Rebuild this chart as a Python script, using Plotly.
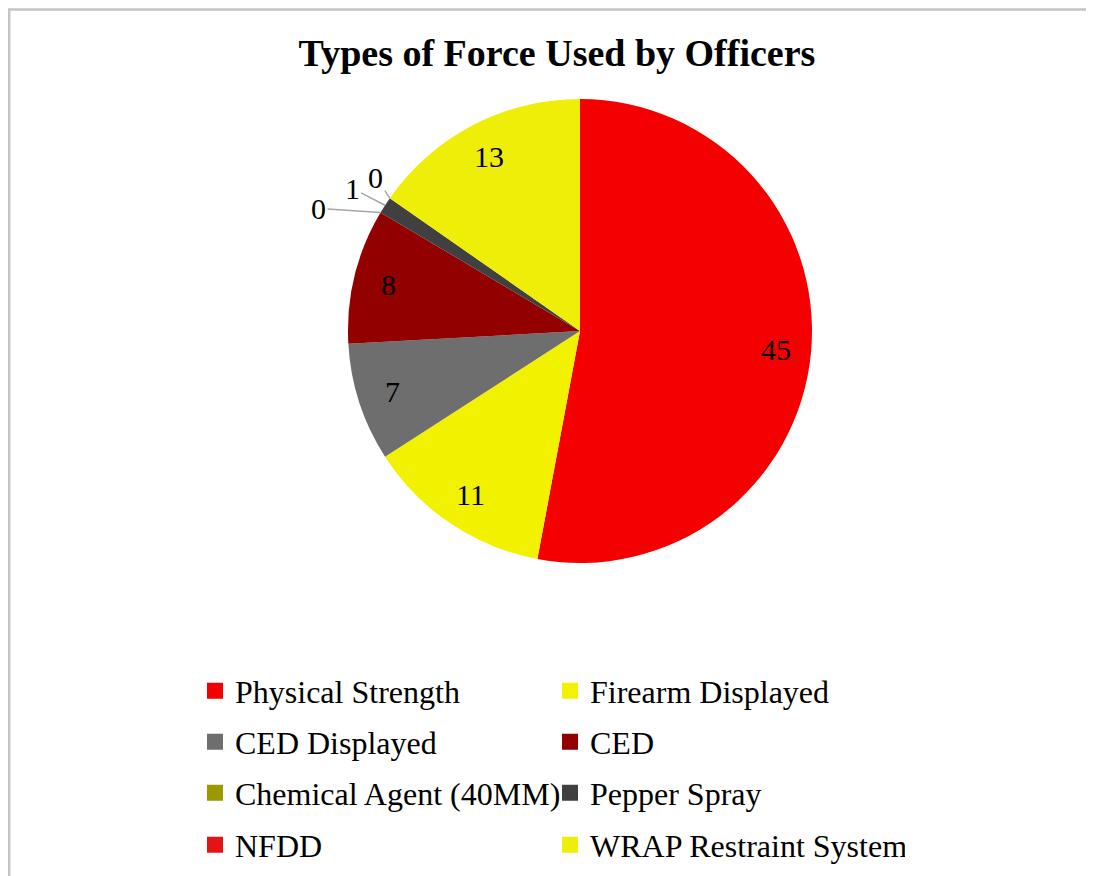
import math
import plotly.graph_objects as go

labels = ['Physical Strength', 'Firearm Displayed', 'CED Displayed', 'CED',
          'Chemical Agent (40MM)', 'Pepper Spray', 'NFDD', 'WRAP Restraint System']
values = [45, 11, 7, 8, 0, 1, 0, 13]
colors = ['#F40000', '#F2F200', '#6E6E6E', '#920000',
          '#9A9A00', '#404040', '#E41414', '#EEEE08']

# page has an 8px body margin, so the figure is 16px smaller than the window
W, H = 1086, 868
cx, cy, R = 572, 323, 232
serif = 'Liberation Serif, Times New Roman, serif'

fig = go.Figure()
fig.add_trace(go.Pie(labels=labels, values=values, sort=False, direction='clockwise',
                     rotation=0, marker=dict(colors=colors, line=dict(width=0)),
                     textinfo='none', hoverinfo='label+value', showlegend=False,
                     domain=dict(x=[(cx - R) / W, (cx + R) / W],
                                 y=[1 - (cy + R) / H, 1 - (cy - R) / H])))

# legend: one legend per row, two entries each
legend_names = ['legend', 'legend2', 'legend3', 'legend4']
row_y = [683, 734, 785, 837]
for i, (lab, col) in enumerate(zip(labels, colors)):
    fig.add_trace(go.Scatter(x=[None], y=[None], mode='markers', name=lab,
                             marker=dict(symbol='square', size=16, color=col),
                             legend=legend_names[i // 2], hoverinfo='skip'))

# data labels
total = sum(values)
cum = 0
annotations = []
small_offsets = {4: (-62, -4), 5: (-33, -17), 6: (-14, -21)}
for i, v in enumerate(values):
    mid = (cum + v / 2) / total * 2 * math.pi
    end = (cum + v) / total * 2 * math.pi
    cum += v
    if i in small_offsets:
        ang = end if v == 0 else mid
        px_ = cx + R * math.sin(ang)
        py_ = cy - R * math.cos(ang)
        ax, ay = small_offsets[i]
        annotations.append(dict(x=px_ / W, y=1 - py_ / H, xref='paper', yref='paper',
                                text=str(v), showarrow=True, arrowhead=0, arrowwidth=1.5,
                                arrowcolor='#A6A6A6', ax=ax, ay=ay, standoff=0,
                                font=dict(family=serif, size=30, color='black')))
    else:
        r = 0.85 * R
        px_ = cx + r * math.sin(mid)
        py_ = cy - r * math.cos(mid)
        annotations.append(dict(x=px_ / W, y=1 - py_ / H, xref='paper', yref='paper',
                                xanchor='center', yanchor='middle',
                                text=str(v), showarrow=False,
                                font=dict(family=serif, size=30, color='black')))

layout_legends = {}
for name, yy in zip(legend_names, row_y):
    layout_legends[name] = dict(orientation='h', x=187 / W, y=1 - yy / H,
                                xanchor='left', yanchor='middle',
                                entrywidth=310, entrywidthmode='pixels',
                                font=dict(family=serif, size=32, color='black'),
                                bgcolor='rgba(0,0,0,0)', itemclick=False)

# chart frame: only the left and top edges fall inside the picture
bx, by = 1.2 / W, 1 - 1.5 / H
frame = f'M {bx},-0.2 L {bx},{by} L 1.3,{by}'

fig.update_layout(
    width=W, height=H,
    margin=dict(l=0, r=0, t=0, b=0),
    paper_bgcolor='white', plot_bgcolor='white',
    title=dict(text='<b>Types of Force Used by Officers</b>', x=549 / W, xanchor='center',
               y=1 - 45 / H, yanchor='middle',
               font=dict(family=serif, size=38, color='black')),
    xaxis=dict(visible=False), yaxis=dict(visible=False),
    annotations=annotations,
    shapes=[dict(type='path', xref='paper', yref='paper', path=frame,
                 line=dict(color='#C4C4C4', width=2.5))],
    **layout_legends
)

fig.write_html('out.html')
